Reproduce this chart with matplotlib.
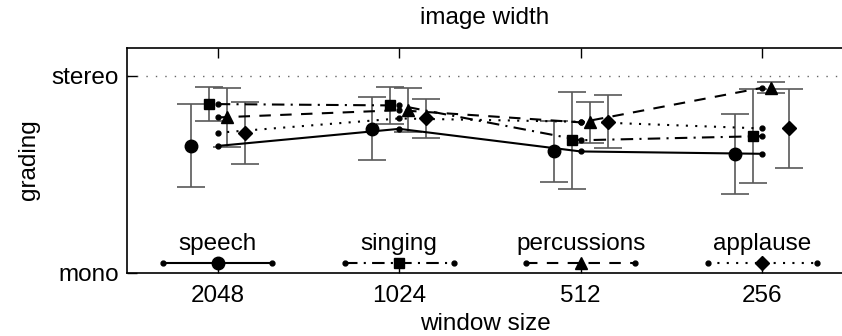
import matplotlib
matplotlib.use("Agg")
import matplotlib.pyplot as plt
import matplotlib.transforms as mtransforms
import numpy as np

plt.rcParams['font.family'] = ['Liberation Sans', 'DejaVu Sans']

window_sizes = ["2048", "1024", "512", "256"]
signals = ["speech", "singing", "percussions", "applause"]

speech_mean = [0.644, 0.731, 0.616, 0.604]
speech_err = [0.211, 0.160, 0.157, 0.204]
singing_mean = [0.857, 0.850, 0.673, 0.694]
singing_err = [0.088, 0.095, 0.247, 0.238]
perc_mean = [0.789, 0.826, 0.764, 0.940]
perc_err = [0.150, 0.113, 0.103, 0.029]
applause_mean = [0.711, 0.784, 0.767, 0.733]
applause_err = [0.159, 0.098, 0.134, 0.200]

means = [speech_mean, singing_mean, perc_mean, applause_mean]
errs = [speech_err, singing_err, perc_err, applause_err]
markers = ["o", "s", "^", "D"]
msizes = [9, 7, 8.5, 7]
styles = ["-", (0, (6, 3, 1, 3)), (0, (5.5, 4.5)), (0, (1, 3.5))]
offsets = [-0.15, -0.05, 0.05, 0.15]

fs = 17.5
lw = 1.5
fig = plt.figure(figsize=(8.42, 3.36), dpi=100)
ax = fig.add_axes([127 / 842, 1 - 272.5 / 336, 716 / 842, 225 / 336])

x = np.arange(len(window_sizes))

ax.axhline(1.0, color="0.4", lw=1.0, ls=(0, (1, 5.8)), zorder=1)

for i in range(4):
    ax.errorbar(x + offsets[i], means[i], yerr=errs[i], fmt="none",
                ecolor="0.35", elinewidth=1.2, capsize=10, capthick=1.2, zorder=2)
    ax.plot(x, means[i], color="black", lw=lw, ls=styles[i],
            marker="o", ms=3.5, zorder=3)
    ax.plot(x + offsets[i], means[i], ls="none", marker=markers[i],
            ms=msizes[i], color="black", zorder=4)

# legend along the bottom, one entry per window size position
trans = mtransforms.blended_transform_factory(ax.transData, ax.transAxes)
for i in range(4):
    ax.plot([x[i] - 0.3, x[i] + 0.3], [0.042, 0.042], transform=trans,
            color="black", lw=lw, ls=styles[i], marker="o", ms=3.5,
            clip_on=False, zorder=3)
    ax.plot([x[i]], [0.042], transform=trans, marker=markers[i],
            ms=msizes[i], color="black", clip_on=False, zorder=4)
    ax.text(x[i], 0.125, signals[i], transform=trans, ha="center",
            va="center", fontsize=fs)

ax.set_xlim(-0.5, 3.445)
ax.set_ylim(0, 1.145)
ax.set_xticks(x)
ax.set_xticklabels(window_sizes, fontsize=fs)
ax.set_yticks([0, 1])
ax.set_yticklabels(["mono", "stereo"], fontsize=fs)
ax.tick_params(direction="in", length=7, width=1, top=True)
ax.tick_params(axis="x", pad=9)
ax.tick_params(axis="y", pad=6)
ax.spines["right"].set_visible(False)
for s in ["left", "top", "bottom"]:
    ax.spines[s].set_linewidth(1.2)

ax.set_title("image width", fontsize=fs, pad=17)
ax.set_xlabel("window size", fontsize=fs, labelpad=4)
ax.set_ylabel("grading", fontsize=fs, labelpad=8)

fig.savefig("out.png", dpi=100)
